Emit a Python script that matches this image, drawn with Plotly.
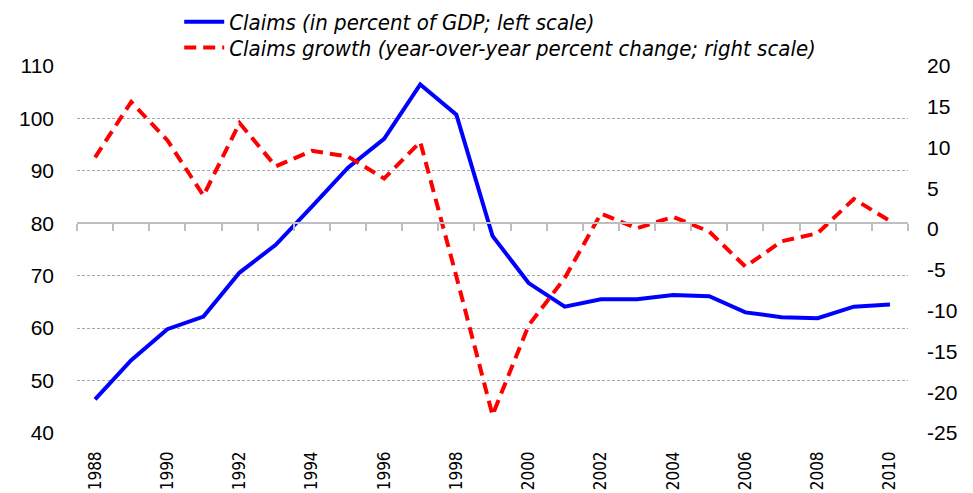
import plotly.graph_objects as go

# Data
years = list(range(1988, 2011))
claims_gdp = [46.4, 53.9, 59.8, 62.2, 70.6, 75.9, 83.2, 90.6, 96.1, 106.5, 100.7,
              77.6, 68.6, 64.1, 65.5, 65.5, 66.3, 66.1, 63.0, 62.1, 61.9, 64.1, 64.5]
claims_growth = [8.8, 15.6, 10.9, 4.1, 13.0, 7.7, 9.6, 8.9, 6.2, 10.7, -5.8,
                 -22.8, -11.8, -6.0, 1.9, 0.1, 1.5, -0.3, -4.6, -1.5, -0.5, 3.7, 1.0]
year_ticks = years[::2]
left_ticks = list(range(40, 111, 10))
right_ticks = list(range(-25, 21, 5))
boundaries = [y - 0.5 for y in years] + [years[-1] + 0.5]

left_range = [40, 110]
right_range = [-25, 20]
axis_cross = 80  # category axis crosses the left scale here

narrow = "DejaVu Sans Condensed"
legend_font = dict(family=narrow, size=22, style="italic", color="black")

fig = go.Figure()

fig.add_trace(go.Scatter(
    x=years, y=claims_gdp,
    name="Claims (in percent of GDP; left scale)",
    mode="lines",
    line=dict(color="#0000ff", width=4),
    legend="legend",
))

fig.add_trace(go.Scatter(
    x=years, y=claims_growth,
    name="Claims growth (year-over-year percent change; right scale)",
    mode="lines",
    line=dict(color="#ff0000", width=4, dash="12px,7px"),
    yaxis="y2",
    legend="legend2",
))

# empty trace so the crossing axis gets drawn
fig.add_trace(go.Scatter(x=[], y=[], xaxis="x2", showlegend=False, hoverinfo="skip"))

# page body has an 8px margin, so the figure is 8px smaller than the window
fig.update_layout(
    width=965, height=485,
    margin=dict(l=69, r=65, t=58, b=60, autoexpand=False),
    plot_bgcolor="white",
    paper_bgcolor="white",
    font=dict(family="Liberation Sans", size=21, color="black"),
    showlegend=True,
    legend=dict(
        x=0.123, y=1.12, xanchor="left", yanchor="middle",
        font=legend_font, itemwidth=40, bgcolor="rgba(0,0,0,0)",
    ),
    legend2=dict(
        x=0.123, y=1.05, xanchor="left", yanchor="middle",
        font=legend_font, itemwidth=40, bgcolor="rgba(0,0,0,0)",
    ),
    xaxis=dict(
        range=[boundaries[0], boundaries[-1]],
        tickvals=year_ticks,
        ticktext=[str(y) for y in year_ticks],
        tickangle=-90,
        tickfont=dict(family=narrow, size=17),
        ticklabelstandoff=14,
        showline=False, showgrid=False, zeroline=False, ticks="",
    ),
    xaxis2=dict(
        overlaying="x", anchor="free",
        position=(axis_cross - left_range[0]) / (left_range[1] - left_range[0]),
        range=[boundaries[0], boundaries[-1]],
        tickvals=boundaries,
        showticklabels=False,
        ticks="outside", ticklen=7, tickcolor="#bfbfbf", tickwidth=1.5,
        showline=True, linecolor="#bfbfbf", linewidth=1.5,
        showgrid=False, zeroline=False,
    ),
    yaxis=dict(
        range=left_range,
        tickvals=left_ticks, ticktext=[str(v) for v in left_ticks],
        showgrid=True, gridcolor="#a6a6a6", gridwidth=1, griddash="3px,2px",
        zeroline=False, showline=False, ticks="",
        ticklabelstandoff=22,
    ),
    yaxis2=dict(
        range=right_range,
        tickvals=right_ticks, ticktext=[str(v) for v in right_ticks],
        overlaying="y", side="right",
        showgrid=False, zeroline=False, showline=False, ticks="",
        ticklabelstandoff=18,
    ),
)

fig.write_html("out.html")
